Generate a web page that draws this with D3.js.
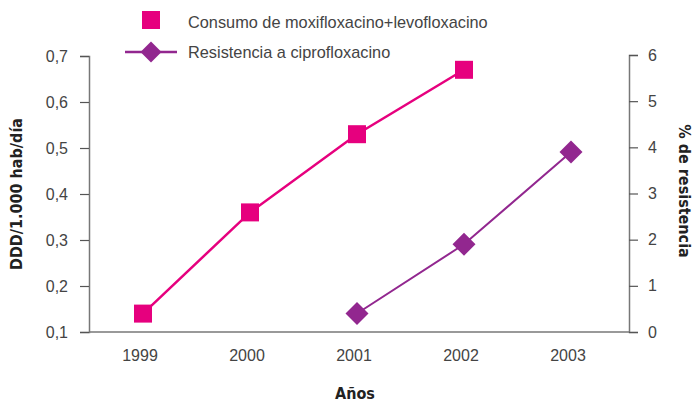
<!DOCTYPE html>
<html>
<head>
<meta charset="utf-8">
<script src="https://cdn.jsdelivr.net/npm/d3@7"></script>
<style>
  html, body { margin: 0; padding: 0; background: #fff; }
  svg { display: block; }
  .lbl { font-family: "Liberation Sans", Arial, sans-serif; fill: #444; }
  .title { font-family: "DejaVu Sans Condensed", "Liberation Sans", sans-serif; font-weight: bold; fill: #222; }
</style>
</head>
<body>
<svg id="chart" width="694" height="402"></svg>
<script>
// Years on the horizontal axis
const years = ["1999", "2000", "2001", "2002", "2003"];
// Consumption of moxifloxacin + levofloxacin (DDD per 1,000 inhabitants per day)
const consumoYears = ["1999", "2000", "2001", "2002"];
const consumo = [0.14, 0.36, 0.53, 0.67];
// Ciprofloxacin resistance (%)
const resistYears = ["2001", "2002", "2003"];
const resistencia = [0.4, 1.9, 3.9];
// Tick values
const leftTicks = [0.1, 0.2, 0.3, 0.4, 0.5, 0.6, 0.7];
const rightTicks = [0, 1, 2, 3, 4, 5, 6];
// Labels
const seriesNames = ["Consumo de moxifloxacino+levofloxacino", "Resistencia a ciprofloxacino"];
const leftTitle = "DDD/1.000 hab/día";
const rightTitle = "% de resistencia";
const xTitle = "Años";

const pink = "#e6007e", purple = "#92278f", axisGrey = "#777";

const svg = d3.select("#chart");
const plot = { left: 89, right: 629, top: 55, bottom: 332 };

const x = d3.scalePoint().domain(years).range([143, 571]);
const yL = d3.scaleLinear().domain([0.1, 0.7]).range([plot.bottom, 56]);
const yR = d3.scaleLinear().domain([0, 6]).range([plot.bottom, plot.top]);

const fmt = d3.format(".1f");

// Left axis
const gL = svg.append("g").attr("transform", `translate(${plot.left},0)`)
  .call(d3.axisLeft(yL).tickValues(leftTicks).tickSize(9).tickPadding(12)
    .tickFormat(d => fmt(d).replace(".", ",")));
// Right axis
const gR = svg.append("g").attr("transform", `translate(${plot.right},0)`)
  .call(d3.axisRight(yR).tickValues(rightTicks).tickSize(9).tickPadding(10)
    .tickFormat(d3.format("d")));
[gL, gR].forEach(g => {
  g.select(".domain").attr("stroke", axisGrey).attr("stroke-width", 1.5);
  g.selectAll(".tick line").attr("stroke", "#555").attr("stroke-width", 1.2);
  g.selectAll(".tick text").attr("class", "lbl").attr("font-size", 16).attr("fill", "#444");
});

// Bottom baseline
svg.append("line")
  .attr("x1", plot.left).attr("x2", plot.right)
  .attr("y1", plot.bottom).attr("y2", plot.bottom)
  .attr("stroke", axisGrey).attr("stroke-width", 1.5);

// Year labels
svg.append("g").selectAll("text").data(years).join("text")
  .attr("class", "lbl")
  .attr("x", d => x(d) - 3).attr("y", 361)
  .attr("text-anchor", "middle").attr("font-size", 16)
  .text(d => d);

// Consumption line + square markers
const lineL = d3.line().x((d, i) => x(consumoYears[i])).y(d => yL(d));
svg.append("path").datum(consumo)
  .attr("d", lineL).attr("fill", "none")
  .attr("stroke", pink).attr("stroke-width", 2.5);
const sq = 18;
svg.append("g").selectAll("rect").data(consumo).join("rect")
  .attr("x", (d, i) => x(consumoYears[i]) - sq / 2)
  .attr("y", d => yL(d) - sq / 2)
  .attr("width", sq).attr("height", sq)
  .attr("fill", pink);

// Resistance line + diamond markers
const lineR = d3.line().x((d, i) => x(resistYears[i])).y(d => yR(d));
svg.append("path").datum(resistencia)
  .attr("d", lineR).attr("fill", "none")
  .attr("stroke", purple).attr("stroke-width", 2);
const diamond = r => `M0,${-r}L${r},0L0,${r}L${-r},0Z`;
svg.append("g").selectAll("path").data(resistencia).join("path")
  .attr("transform", (d, i) => `translate(${x(resistYears[i])},${yR(d)})`)
  .attr("d", diamond(11.5))
  .attr("fill", purple);

// Legend
const leg = svg.append("g");
leg.append("rect").attr("x", 142).attr("y", 11).attr("width", sq).attr("height", sq).attr("fill", pink);
leg.append("line").attr("x1", 125).attr("x2", 177).attr("y1", 52).attr("y2", 52)
  .attr("stroke", purple).attr("stroke-width", 2.5);
leg.append("path").attr("transform", "translate(151,52)").attr("d", diamond(10.5)).attr("fill", purple);
leg.selectAll("text").data(seriesNames).join("text")
  .attr("class", "lbl")
  .attr("transform", (d, i) => `translate(188,${28 + i * 30}) scale(0.96,1)`)
  .attr("font-size", 17)
  .text(d => d);

// Axis titles
svg.append("text").attr("class", "title")
  .attr("transform", `translate(22,194) rotate(-90)`)
  .attr("text-anchor", "middle").attr("font-size", 16)
  .text(leftTitle);
svg.append("text").attr("class", "title")
  .attr("transform", `translate(679,191) rotate(90)`)
  .attr("text-anchor", "middle").attr("font-size", 16)
  .text(rightTitle);
svg.append("text").attr("class", "title")
  .attr("x", 355).attr("y", 399)
  .attr("text-anchor", "middle").attr("font-size", 16)
  .text(xTitle);
</script>
</body>
</html>
